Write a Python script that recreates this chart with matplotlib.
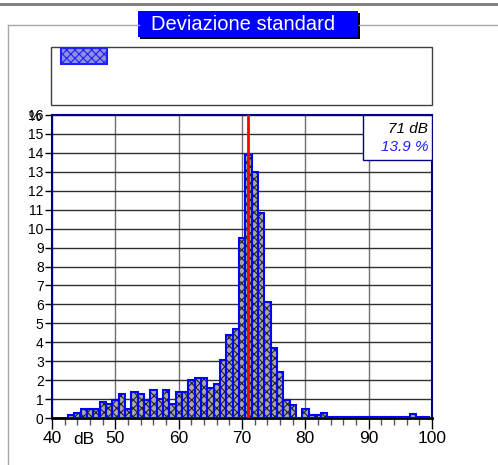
import matplotlib
matplotlib.use('Agg')
import matplotlib.pyplot as plt
from matplotlib.patches import Rectangle
import numpy as np

plt.rcParams['font.family'] = ['Liberation Sans', 'DejaVu Sans']
plt.rcParams['hatch.linewidth'] = 0.8

# histogram: dB bin -> percent
bins = list(range(43, 100))
perc = [0.18, 0.27, 0.45, 0.45, 0.45, 0.85, 0.76, 0.97, 1.29, 0.50,
        1.37, 1.29, 0.97, 1.46, 1.00, 1.46, 0.74, 1.38, 1.38, 2.00,
        2.13, 2.13, 1.56, 1.80, 3.07, 4.39, 4.72, 9.50, 13.9, 13.0,
        10.8, 6.10, 3.69, 2.45, 0.93, 0.69, 0.00, 0.45, 0.15, 0.15,
        0.28, 0.05, 0.05, 0.05, 0.05, 0.05, 0.05, 0.05, 0.05, 0.05,
        0.05, 0.05, 0.05, 0.05, 0.19, 0.05, 0.05]

sd_level = 71
sd_perc = 13.9
xticks = [40, 50, 60, 70, 80, 90, 100]
yticks = list(range(0, 17))

W, H = 498, 465
fig = plt.figure(figsize=(W / 100, H / 100), dpi=100)

# decorations in pixel coords
deco = fig.add_axes([0, 0, 1, 1])
deco.set_xlim(0, W)
deco.set_ylim(H, 0)
deco.axis('off')
deco.plot([0, W], [4.5, 4.5], color='#7a7a7a', lw=2)
deco.plot([8, 139], [25, 25], color='#a8a8a8', lw=1)
deco.plot([359, W], [25, 25], color='#a8a8a8', lw=1)
deco.plot([8, 8], [25, H], color='#a8a8a8', lw=1)
deco.add_patch(Rectangle((140, 13), 220, 26, facecolor='black', edgecolor='none'))
deco.add_patch(Rectangle((138, 11), 220, 26, facecolor='#0000ff', edgecolor='none'))
deco.text(243, 24.5, 'Deviazione standard', color='white', fontsize=14.5,
          ha='center', va='center')
# legend box
deco.add_patch(Rectangle((51, 47), 381, 58, facecolor='white', edgecolor='#404040', lw=1))
deco.add_patch(Rectangle((61, 48), 46, 16, facecolor='#9090e0', edgecolor='#2020ff',
                         hatch='xxxx', lw=1.5))

# histogram axes
ax = fig.add_axes([52 / W, (H - 418) / H, 380 / W, 303 / H])
ax.bar(bins, perc, width=1.0, color='#a8a8a8', edgecolor='#202020', hatch='xxxx',
       lw=0, zorder=2)
ax.bar(bins, perc, width=1.0, fill=False, edgecolor='#0000ff', lw=1.5, zorder=3)
ax.axvline(sd_level, color='#ff0000', lw=2, zorder=4)

ax.set_xlim(40, 100)
ax.set_ylim(0, 16)
ax.set_xticks(xticks)
ax.set_xticks(np.arange(40, 101, 2), minor=True)
ax.set_yticks(yticks)
ax.set_yticklabels([str(v) for v in yticks], fontsize=10)
ax.set_xticklabels([str(v) for v in xticks], fontsize=12.5)
ax.tick_params(axis='x', which='major', length=8, width=1, color='black', pad=1)
ax.tick_params(axis='x', which='minor', length=5, width=1, color='#555555')
ax.tick_params(axis='y', length=5, width=1, pad=1)
ax.grid(True, axis='y', color='#303030', lw=1, zorder=1)
ax.grid(True, axis='x', which='major', color='#707070', lw=1, zorder=1)
for s in ['left', 'top', 'right']:
    ax.spines[s].set_color('#000080')
    ax.spines[s].set_linewidth(1.5)
ax.spines['bottom'].set_color('black')
ax.spines['bottom'].set_linewidth(2)

ax.text(45, -0.72, 'dB', fontsize=12.5, ha='center', va='top')
ax.text(-0.03, 15.9, '%', transform=ax.get_yaxis_transform(), fontsize=10,
        ha='right', va='center')

# value box
ax.add_patch(Rectangle((0.818, 0.851), 0.182, 0.149, transform=ax.transAxes,
                       facecolor='white', edgecolor='#000080', lw=1, zorder=5))
ax.text(0.99, 0.955, f'{sd_level} dB', transform=ax.transAxes, ha='right', va='center',
        fontsize=11, style='italic', color='black', zorder=6)
ax.text(0.99, 0.895, f'{sd_perc} %', transform=ax.transAxes, ha='right', va='center',
        fontsize=11, style='italic', color='#2020ff', zorder=6)

fig.savefig('out.png', dpi=100)
